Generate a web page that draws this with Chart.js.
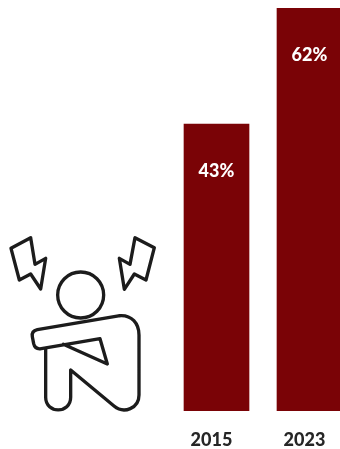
<!DOCTYPE html>
<html>
<head>
<meta charset="utf-8">
<title>Chart</title>
<script src="https://cdn.jsdelivr.net/npm/chart.js@4/dist/chart.umd.min.js"></script>
<style>
    html, body { margin: 0; padding: 0; background: #fff; overflow: hidden; }
    #wrap { width: 340px; height: 449px; overflow: hidden; }
    canvas { display: block; }
</style>
</head>
<body>
<div id="wrap"><canvas id="canvas" width="360" height="449"></canvas></div>
<script>
var years = ['2015', '2023'];
var shares = [43, 62];
var labels = ['43%', '62%'];

var BAR_COLOR = '#7a0306';
var INK = '#1c1c1c';

// lines of a closed polygon, in the icon's own units
function poly(ctx, pts) {
    ctx.beginPath();
    ctx.moveTo(pts[0][0], pts[0][1]);
    for (var i = 1; i < pts.length; i++) {
        ctx.lineTo(pts[i][0], pts[i][1]);
    }
    ctx.closePath();
    ctx.stroke();
}

// stressed figure with two lightning bolts, left of the bars
var iconPlugin = {
    id: 'icon',
    afterDraw: function (chart) {
        var ctx = chart.ctx;
        ctx.save();
        ctx.translate(0, 225);
        ctx.scale(1 / 3, 1 / 3);
        ctx.strokeStyle = INK;
        ctx.lineWidth = 10;
        ctx.lineJoin = 'round';
        ctx.lineCap = 'round';

        poly(ctx, [[33, 70], [92, 38], [105, 118], [137, 100], [122, 192], [92, 147], [58, 165]]);
        poly(ctx, [[463, 68], [405, 38], [390, 118], [358, 100], [373, 193], [403, 147], [438, 165]]);

        ctx.beginPath();
        ctx.arc(242, 210, 69, 0, Math.PI * 2);
        ctx.stroke();

        // arm across the knees
        ctx.beginPath();
        ctx.moveTo(360, 272);
        ctx.lineTo(112, 314);
        ctx.quadraticCurveTo(94, 318, 97, 335);
        ctx.lineTo(101, 356);
        ctx.quadraticCurveTo(105, 374, 124, 371);
        ctx.lineTo(300, 341);
        ctx.lineTo(322, 417);
        ctx.lineTo(190, 358);
        ctx.stroke();

        // back, leg and foot
        ctx.beginPath();
        ctx.moveTo(360, 272);
        ctx.bezierCurveTo(395, 270, 417, 295, 417, 330);
        ctx.lineTo(417, 510);
        ctx.bezierCurveTo(417, 550, 372, 568, 342, 543);
        ctx.lineTo(212, 435);
        ctx.lineTo(212, 517);
        ctx.bezierCurveTo(212, 567, 137, 567, 137, 517);
        ctx.lineTo(137, 372);
        ctx.stroke();
        ctx.restore();
    }
};

// percentage text inside the top of each bar
var valueLabels = {
    id: 'valueLabels',
    afterDatasetsDraw: function (chart) {
        var ctx = chart.ctx;
        var bars = chart.getDatasetMeta(0).data;
        ctx.save();
        ctx.fillStyle = '#ffffff';
        ctx.font = '900 18px Lato';
        ctx.textAlign = 'center';
        ctx.textBaseline = 'middle';
        for (var i = 0; i < bars.length; i++) {
            ctx.fillText(labels[i], bars[i].x, bars[i].y + 47);
        }
        ctx.restore();
    }
};

var ctx = document.getElementById('canvas').getContext('2d');

var myChart = new Chart(ctx, {
    type: 'bar',
    data: {
        labels: years,
        datasets: [{
            data: shares,
            backgroundColor: BAR_COLOR,
            barThickness: 65,
            base: -4
        }]
    },
    options: {
        responsive: false,
        animation: false,
        layout: { padding: { left: 170, right: 4, top: 8, bottom: 0 } },
        plugins: {
            legend: { display: false },
            title: { display: false },
            tooltip: { enabled: false }
        },
        scales: {
            x: {
                grid: { display: false },
                border: { display: false },
                afterFit: function (scale) { scale.height = 38; },
                ticks: {
                    color: '#262626',
                    padding: 10,
                    labelOffset: -5,
                    maxRotation: 0,
                    font: { family: 'Lato', weight: '900', size: 18 }
                }
            },
            // baseline sits a little under zero
            y: { display: false, min: -4, max: 62 }
        }
    },
    plugins: [valueLabels, iconPlugin]
});
</script>
</body>
</html>
